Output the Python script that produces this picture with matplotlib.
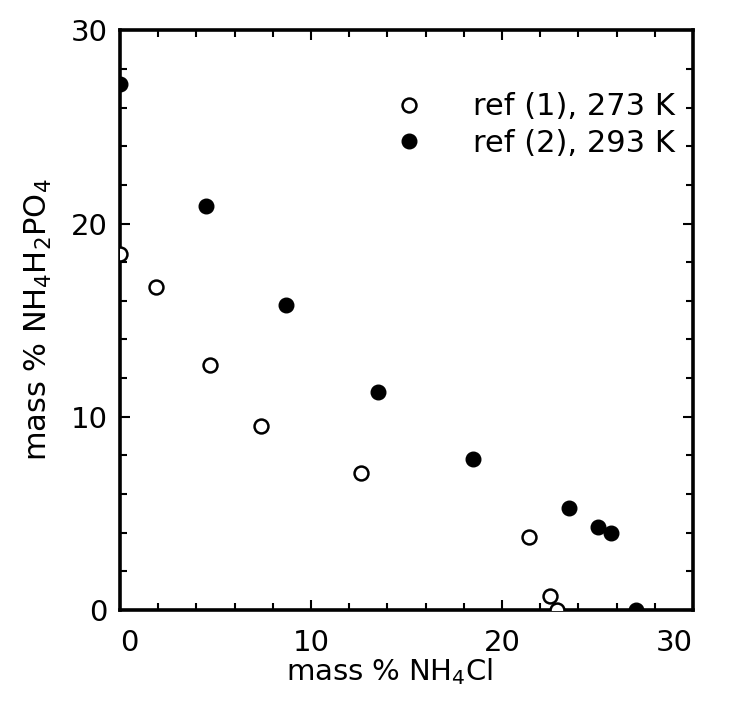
import matplotlib
matplotlib.use('Agg')
import matplotlib.pyplot as plt
from matplotlib.ticker import MultipleLocator

# ref (1), 273 K  -- open circles
x_273 = [0.0, 1.9, 4.7, 7.4, 12.6, 21.4, 22.5, 22.9]
y_273 = [18.4, 16.7, 12.7, 9.5, 7.1, 3.8, 0.7, 0.0]

# ref (2), 293 K  -- filled circles
x_293 = [0.0, 4.5, 8.7, 13.5, 18.5, 23.5, 25.0, 25.7, 27.0]
y_293 = [27.2, 20.9, 15.8, 11.3, 7.8, 5.3, 4.3, 4.0, 0.0]

labels = ['ref (1), 273 K', 'ref (2), 293 K']
xticks = [0, 10, 20, 30]
yticks = [0, 10, 20, 30]

plt.rcParams['font.family'] = ['DejaVu Sans']
fig = plt.figure(figsize=(7.36, 7.04), dpi=100)
ax = fig.add_axes([0.163, 0.1335, 0.7786, 0.8235])

ax.plot(x_273, y_273, 'o', ms=10, mfc='white', mec='black', mew=1.8,
        label=labels[0], clip_on=True, zorder=3)
ax.plot(x_293, y_293, 'o', ms=10.5, mfc='black', mec='black',
        label=labels[1], clip_on=True, zorder=3)

ax.set_xlim(0, 30)
ax.set_ylim(0, 30)
ax.set_xticks(xticks)
ax.set_yticks(yticks)
ax.xaxis.set_minor_locator(MultipleLocator(2))
ax.yaxis.set_minor_locator(MultipleLocator(2))
ax.tick_params(which='both', direction='in', top=True, right=True,
               width=1.5, labelsize=21)
ax.tick_params(which='major', length=7)
ax.tick_params(which='minor', length=5)
ax.tick_params(axis='x', pad=14)
ax.tick_params(axis='y', pad=9)
for s in ax.spines.values():
    s.set_linewidth(2.6)

xl = ax.get_xticklabels()
xl[0].set_ha('left')
xl[-1].set_ha('right')

ax.set_xlabel('mass % NH$_4$Cl', fontsize=21)
ax.xaxis.set_label_coords(0.47, -0.08)
ax.set_ylabel('mass % NH$_4$H$_2$PO$_4$', fontsize=22)
ax.yaxis.set_label_coords(-0.115, 0.5)

ax.legend(loc='upper right', bbox_to_anchor=(0.968, 0.893), frameon=False,
          fontsize=22, numpoints=1, handlelength=0.6, handletextpad=1.8,
          labelspacing=0.25, borderpad=0, borderaxespad=0)

plt.savefig('out.png', dpi=100)
